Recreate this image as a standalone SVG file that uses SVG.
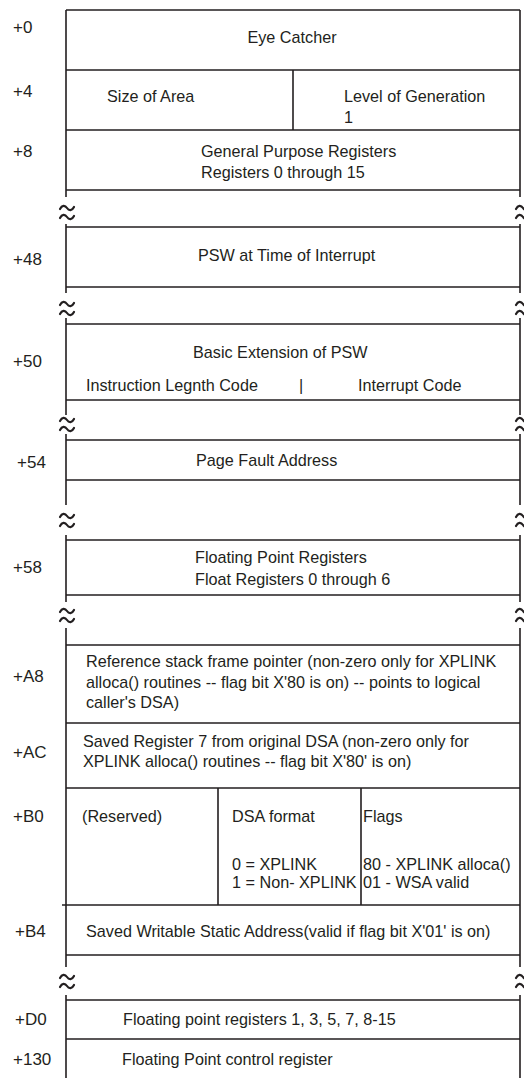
<svg xmlns="http://www.w3.org/2000/svg" xmlns:xlink="http://www.w3.org/1999/xlink" width="524" height="1078" viewBox="0 0 524 1078">
<style>
text{font-family:"Liberation Sans",Arial,Helvetica,sans-serif;font-size:16.2px;fill:#231f20}
#labels text{font-size:17px}
.ln{stroke:#231f20;stroke-width:1.6;fill:none}
.tl{stroke:#231f20;stroke-width:2.2;fill:none;stroke-linecap:round}
.mid{text-anchor:middle}
</style>
<defs>
<g id="brk">
<path class="tl" d="M-7,-4 C-5,-8 -2,-8 0,-5 C2,-2 5,-2 7,-6"/>
<path class="tl" d="M-7,5 C-5,1 -2,1 0,4 C2,7 5,7 7,3"/>
</g>
</defs>
<rect width="524" height="1078" fill="#fff"/>
<g id="frame">
<path class="ln" d="M66,10H520 M66,70H520 M66,130H520 M66,190H520 M66,227H520 M66,287H520 M66,324H520 M66,400H520 M66,440H520 M66,480H520 M66,540H520 M66,595H520 M66,645H520 M66,723H520 M66,788H520 M62,905H520 M66,955H520 M66,1000H520 M66,1039H520"/>
<path class="ln" d="M66,10V197 M66,224V293 M66,318V415 M66,434V505 M66,535V602 M66,628V967 M66,995V1078"/>
<path class="ln" d="M520,10V197 M520,224V293 M520,318V415 M520,434V505 M520,535V602 M520,628V967 M520,995V1078"/>
<use xlink:href="#brk" x="67" y="213"/>
<use xlink:href="#brk" x="67" y="309"/>
<use xlink:href="#brk" x="67" y="425"/>
<use xlink:href="#brk" x="67" y="521"/>
<use xlink:href="#brk" x="67" y="616"/>
<use xlink:href="#brk" x="67" y="982"/>
<use xlink:href="#brk" x="523" y="213"/>
<use xlink:href="#brk" x="523" y="309"/>
<use xlink:href="#brk" x="523" y="425"/>
<use xlink:href="#brk" x="523" y="521"/>
<use xlink:href="#brk" x="523" y="616"/>
<use xlink:href="#brk" x="523" y="982"/>
</g>
<g id="labels">
<text x="13" y="33">+0</text>
<text x="13" y="97">+4</text>
<text x="13" y="157">+8</text>
<text x="13" y="265">+48</text>
<text x="13" y="367">+50</text>
<text x="17" y="468">+54</text>
<text x="13" y="573">+58</text>
<text x="13" y="682">+A8</text>
<text x="13" y="758">+AC</text>
<text x="13" y="822">+B0</text>
<text x="15" y="937">+B4</text>
<text x="15" y="1025">+D0</text>
<text x="13" y="1065">+130</text>
</g>
<g id="n-eye"><text class="mid" x="292" y="43">Eye Catcher</text></g>
<g id="n-size">
<path class="ln" d="M293,70V130"/>
<text x="107" y="102">Size of Area</text>
<text x="344" y="102">Level of Generation</text>
<text x="344" y="123">1</text>
</g>
<g id="n-gpr">
<text x="201" y="157">General Purpose Registers</text>
<text x="201" y="178">Registers 0 through 15</text>
</g>
<g id="n-psw"><text x="198" y="261">PSW at Time of Interrupt</text></g>
<g id="n-bext">
<text x="193" y="358">Basic Extension of PSW</text>
<text x="86" y="391">Instruction Legnth Code</text>
<text x="299" y="391">|</text>
<text x="358" y="391">Interrupt Code</text>
</g>
<g id="n-pfa"><text x="196" y="466">Page Fault Address</text></g>
<g id="n-fpr">
<text x="195" y="563">Floating Point Registers</text>
<text x="195" y="585">Float Registers 0 through 6</text>
</g>
<g id="n-ref">
<text x="86" y="667">Reference stack frame pointer (non-zero only for XPLINK</text>
<text x="86" y="688">alloca() routines -- flag bit X'80 is on) -- points to logical</text>
<text x="86" y="708">caller's DSA)</text>
</g>
<g id="n-r7">
<text x="83" y="747">Saved Register 7 from original DSA (non-zero only for</text>
<text x="83" y="767">XPLINK alloca() routines -- flag bit X'80' is on)</text>
</g>
<g id="n-b0">
<path class="ln" d="M218,788V905 M361,788V905"/>
<text x="82" y="822">(Reserved)</text>
<text x="232" y="822">DSA format</text>
<text x="363" y="822">Flags</text>
<text x="232" y="870">0 = XPLINK</text>
<text x="232" y="888">1 = Non- XPLINK</text>
<text x="363" y="870">80 - XPLINK alloca()</text>
<text x="363" y="888">01 - WSA valid</text>
</g>
<g id="n-wsa"><text x="86" y="937">Saved Writable Static Address(valid if flag bit X'01' is on)</text></g>
<g id="n-fpr2"><text x="123" y="1025">Floating point registers 1, 3, 5, 7, 8-15</text></g>
<g id="n-fpc"><text x="122" y="1065">Floating Point control register</text></g>
</svg>
